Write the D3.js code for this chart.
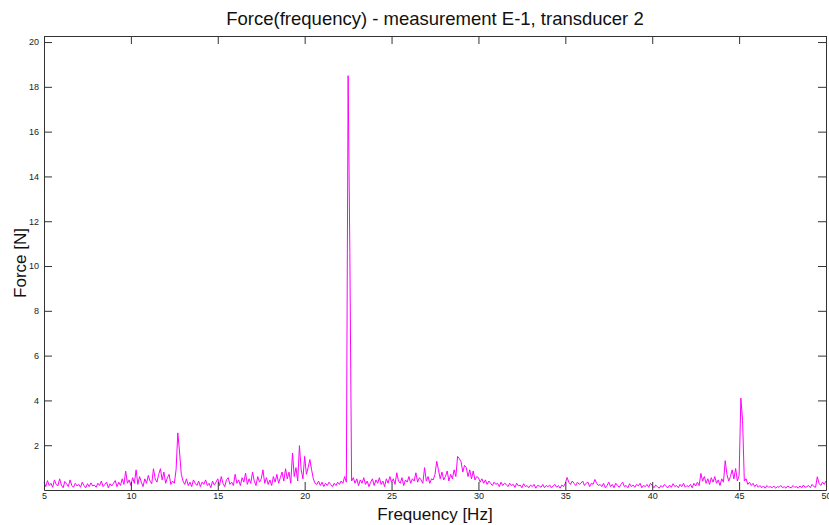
<!DOCTYPE html>
<html>
<head>
<meta charset="utf-8">
<script src="https://cdn.jsdelivr.net/npm/d3@7"></script>
<style>
  body { margin: 0; background: #fff; }
  text { font-family: "Liberation Sans", Arial, sans-serif; }
</style>
</head>
<body>
<svg id="drawing_region"></svg>
<script>
// frequency grid: 5..50 Hz in 0.1 Hz steps
const freqStart = 5;
const freqStep = 0.1;
const force = [
  0.35,0.15,0.42,0.2,0.3,0.12,0.45,0.25,0.18,0.5,
  0.22,0.1,0.38,0.28,0.15,0.45,0.2,0.12,0.3,0.18,
  0.25,0.12,0.35,0.2,0.1,0.28,0.15,0.32,0.18,0.22,
  0.12,0.3,0.2,0.4,0.15,0.25,0.35,0.1,0.28,0.18,
  0.3,0.42,0.15,0.35,0.2,0.5,0.25,0.84,0.3,0.45,
  0.2,0.55,0.3,0.9,0.25,0.6,0.35,0.15,0.5,0.3,
  0.65,0.4,0.28,0.95,0.5,0.35,0.7,0.95,0.45,0.8,
  0.3,0.55,0.7,0.25,0.4,0.3,0.9,2.55,1.7,0.7,
  0.4,0.25,0.5,0.2,0.35,0.15,0.45,0.3,0.2,0.4,
  0.15,0.35,0.25,0.45,0.2,0.3,0.1,0.4,0.22,0.35,
  0.5,0.2,0.6,0.3,0.15,0.45,0.55,0.25,0.35,0.2,
  0.7,0.3,0.45,0.2,0.55,0.35,0.75,0.25,0.5,0.3,
  0.8,0.4,0.2,0.6,0.35,0.5,0.9,0.3,0.55,0.25,
  0.45,0.2,0.6,0.35,0.7,0.3,0.55,0.8,0.4,0.95,
  0.5,0.8,0.3,1.65,0.6,1.0,0.4,1.98,0.9,0.5,
  1.5,0.7,1.0,1.36,0.9,0.5,0.3,0.25,0.4,0.2,
  0.35,0.15,0.3,0.2,0.35,0.25,0.15,0.3,0.2,0.35,
  0.25,0.4,0.3,0.6,0.35,18.5,10.6,0.4,0.55,0.3,
  0.5,0.2,0.45,0.3,0.55,0.25,0.4,0.15,0.35,0.5,
  0.2,0.45,0.3,0.55,0.25,0.4,0.15,0.5,0.3,0.6,
  0.35,0.5,0.25,0.77,0.4,0.3,0.55,0.2,0.45,0.35,
  0.6,0.3,0.5,0.4,0.77,0.35,0.55,0.45,0.3,1.0,
  0.4,0.6,0.3,0.5,0.45,0.7,1.28,0.9,0.5,0.8,
  0.45,0.6,0.85,0.4,0.7,0.5,0.9,0.6,1.5,1.4,
  1.26,0.8,1.1,1.0,0.6,0.9,0.5,0.85,0.45,0.6,
  0.55,0.35,0.5,0.3,0.45,0.25,0.4,0.3,0.2,0.35,
  0.25,0.3,0.15,0.35,0.2,0.3,0.25,0.15,0.3,0.2,
  0.25,0.12,0.3,0.18,0.22,0.1,0.28,0.15,0.2,0.1,
  0.22,0.15,0.25,0.08,0.2,0.18,0.12,0.25,0.1,0.2,
  0.15,0.22,0.1,0.18,0.25,0.12,0.2,0.08,0.22,0.15,
  0.3,0.56,0.35,0.25,0.4,0.3,0.2,0.35,0.25,0.3,
  0.4,0.2,0.3,0.35,0.15,0.3,0.25,0.47,0.3,0.2,
  0.25,0.15,0.3,0.1,0.2,0.35,0.15,0.25,0.1,0.3,
  0.2,0.12,0.25,0.35,0.15,0.2,0.1,0.28,0.15,0.22,
  0.12,0.25,0.18,0.3,0.1,0.2,0.15,0.25,0.12,0.3,
  0.2,0.1,0.22,0.15,0.08,0.2,0.12,0.25,0.15,0.1,
  0.22,0.12,0.28,0.15,0.2,0.1,0.25,0.15,0.3,0.12,
  0.2,0.15,0.25,0.1,0.3,0.18,0.35,0.2,0.74,0.4,
  0.6,0.3,0.5,0.25,0.55,0.35,0.6,0.3,0.45,0.2,
  0.5,0.35,1.31,0.7,0.4,0.6,0.9,0.5,0.96,0.4,
  0.65,4.1,3.1,0.4,0.5,0.25,0.35,0.2,0.3,0.15,
  0.25,0.12,0.2,0.1,0.18,0.08,0.2,0.12,0.15,0.1,
  0.18,0.08,0.15,0.12,0.2,0.1,0.15,0.08,0.18,0.12,
  0.1,0.2,0.12,0.15,0.08,0.18,0.1,0.22,0.12,0.15,
  0.2,0.1,0.25,0.15,0.12,0.59,0.3,0.2,0.35,0.25,
  0.4
];
const xTicks = [5, 10, 15, 20, 25, 30, 35, 40, 45, 50];
const yTicks = [2, 4, 6, 8, 10, 12, 14, 16, 18, 20];

const width = 829;
const height = 525;
const margin = {top: 36, right: 3, bottom: 35, left: 44};
const inner_width = width - margin.left - margin.right;
const inner_height = height - margin.top - margin.bottom;

const data = force.map((v, i) => ({f: freqStart + i * freqStep, v: v}));

const svg = d3.select('#drawing_region')
    .attr('width', width)
    .attr('height', height);
const chart = svg.append('g')
    .attr('transform', `translate(${margin.left}, ${margin.top})`);

const xscale = d3.scaleLinear().domain([5, 50]).range([0, inner_width]);
const yscale = d3.scaleLinear().domain([0, 20.27]).range([inner_height, 0]);

const axisColor = "#333";

// the line
chart.append("path")
    .datum(data)
    .attr("fill", "none")
    .attr("stroke", "#ff00ff")
    .attr("stroke-width", 1)
    .attr("d", d3.line().x(d => xscale(d.f)).y(d => yscale(d.v)));

// axes with inward ticks
const xaxis = d3.axisBottom(xscale).tickValues(xTicks).tickSize(-8).tickSizeOuter(0).tickPadding(3);
const yaxis = d3.axisLeft(yscale).tickValues(yTicks).tickSize(-8).tickSizeOuter(0).tickPadding(5);
const xaxisTop = d3.axisTop(xscale).tickValues(xTicks).tickSize(-8).tickSizeOuter(0).tickFormat("");
const yaxisRight = d3.axisRight(yscale).tickValues(yTicks).tickSize(-8).tickSizeOuter(0).tickFormat("");

const styleAxis = g => {
  g.selectAll("path, line").attr("stroke", axisColor);
  g.selectAll("text").attr("fill", "#222").attr("font-size", "9px")
    .attr("font-family", "'Liberation Sans', Arial, sans-serif");
};

chart.append('g').attr('transform', `translate(0, ${inner_height})`).call(xaxis).call(styleAxis);
chart.append('g').call(yaxis).call(styleAxis);
chart.append('g').call(xaxisTop).call(styleAxis);
chart.append('g').attr('transform', `translate(${inner_width}, 0)`).call(yaxisRight).call(styleAxis);

// titles
svg.append("text")
    .attr("x", margin.left + inner_width / 2)
    .attr("y", 25)
    .attr("text-anchor", "middle")
    .attr("font-size", "18.5px")
    .attr("fill", "#111")
    .text("Force(frequency) - measurement E-1, transducer 2");

svg.append("text")
    .attr("x", margin.left + inner_width / 2)
    .attr("y", 520)
    .attr("text-anchor", "middle")
    .attr("font-size", "17px")
    .attr("fill", "#111")
    .text("Frequency [Hz]");

svg.append("text")
    .attr("transform", `translate(26, ${margin.top + inner_height / 2}) rotate(-90)`)
    .attr("text-anchor", "middle")
    .attr("font-size", "17px")
    .attr("fill", "#111")
    .text("Force [N]");
</script>
</body>
</html>
